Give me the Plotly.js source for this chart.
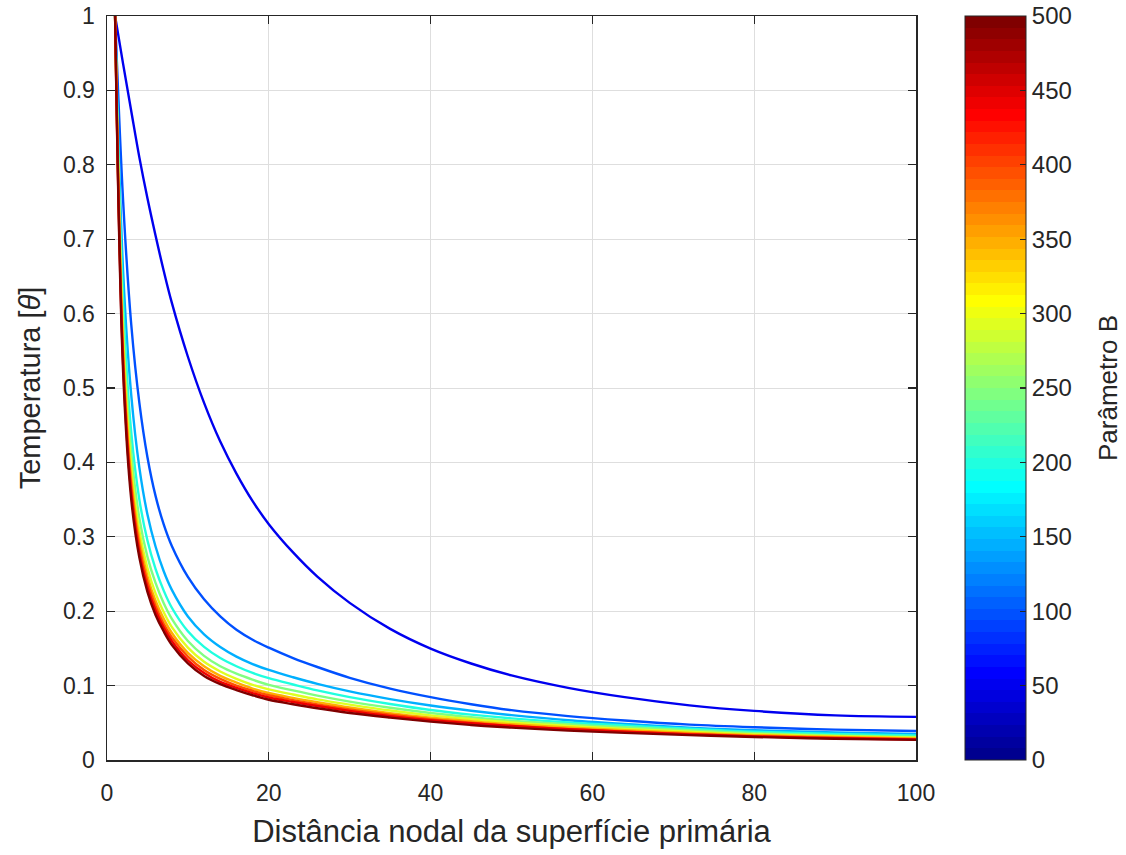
<!DOCTYPE html>
<html>
<head>
<meta charset="utf-8">
<script src="https://cdn.plot.ly/plotly-3.0.1.min.js"></script>
<style>html,body{margin:0;padding:0;background:#fff;}</style>
</head>
<body>
<div id="chart" style="width:1126px;height:855px;"></div>
<script>
// ---- data ----
const nodes = [1,2,3,4,5,6,7,8,10,12,14,16,18,20,23,26,30,35,40,45,50,57,64,72,80,90,100];
const paramB = [50,100,150,200,250,300,350,400,450,500];
const theta_B50  = [1.0,0.935,0.872,0.81,0.755,0.705,0.658,0.615,0.542,0.48,0.428,0.385,0.348,0.317,0.279,0.2465,0.2112,0.1762,0.1497,0.1297,0.1137,0.097,0.0845,0.0735,0.066,0.060,0.058];
const theta_B100 = [1.0,0.75,0.585,0.48,0.407,0.355,0.317,0.288,0.246,0.216,0.193,0.175,0.1616,0.151,0.137,0.125,0.1105,0.096,0.0845,0.075,0.067,0.059,0.053,0.0475,0.044,0.0408,0.039];
const theta_B150 = [1.0,0.655,0.49,0.393,0.33,0.287,0.254,0.229,0.193,0.169,0.152,0.139,0.129,0.121,0.1112,0.1023,0.0922,0.0818,0.0732,0.0662,0.0603,0.0535,0.0485,0.0435,0.040,0.037,0.035];
const theta_B200 = [1.0,0.615,0.44,0.35,0.295,0.257,0.228,0.205,0.173,0.152,0.137,0.126,0.117,0.110,0.1015,0.0935,0.0845,0.0752,0.0672,0.061,0.056,0.0505,0.0465,0.042,0.038,0.035,0.033];
const theta_B250 = [1.0,0.585,0.413,0.325,0.273,0.238,0.211,0.19,0.16,0.14,0.126,0.116,0.108,0.101,0.0935,0.0865,0.0785,0.0702,0.0632,0.0575,0.0528,0.048,0.044,0.040,0.036,0.033,0.031];
const theta_B300 = [1.0,0.565,0.393,0.308,0.258,0.224,0.199,0.179,0.151,0.132,0.119,0.109,0.101,0.095,0.088,0.0815,0.0745,0.0665,0.060,0.055,0.0505,0.0458,0.0418,0.038,0.0345,0.032,0.030];
const theta_B350 = [1.0,0.55,0.379,0.296,0.247,0.214,0.19,0.171,0.144,0.126,0.113,0.104,0.096,0.090,0.0835,0.0777,0.0705,0.063,0.057,0.052,0.048,0.0437,0.040,0.0365,0.0335,0.031,0.029];
const theta_B400 = [1.0,0.54,0.368,0.287,0.239,0.207,0.183,0.165,0.139,0.121,0.109,0.100,0.093,0.087,0.0805,0.0748,0.068,0.061,0.055,0.050,0.046,0.0418,0.0385,0.035,0.032,0.030,0.028];
const theta_B450 = [1.0,0.53,0.359,0.279,0.232,0.201,0.178,0.160,0.134,0.117,0.105,0.097,0.090,0.084,0.078,0.0725,0.066,0.059,0.0535,0.0493,0.0457,0.0415,0.038,0.0345,0.0318,0.0293,0.0275];
const theta_B500 = [1.0,0.52,0.35,0.272,0.226,0.195,0.173,0.155,0.130,0.113,0.102,0.094,0.087,0.081,0.075,0.0695,0.0632,0.057,0.0515,0.047,0.0435,0.0395,0.0365,0.0335,0.031,0.0285,0.027];
const thetaSeries = [theta_B50,theta_B100,theta_B150,theta_B200,theta_B250,theta_B300,theta_B350,theta_B400,theta_B450,theta_B500];
const cbTicks = [0,50,100,150,200,250,300,350,400,450,500];
const yTicks = [0,0.1,0.2,0.3,0.4,0.5,0.6,0.7,0.8,0.9,1];
const xTicks = [0,20,40,60,80,100];

// ---- MATLAB jet(64) colormap ----
function jetRow(i){ // i: 1..64
  const u = k => (k<1||k>47)?0:(k<=16? k/16 : (k<=31? 1 : (48-k)/16));
  const r = u(i-24), g = u(i-8), b = u(i+8);
  return 'rgb(' + Math.round(r*255) + ',' + Math.round(g*255) + ',' + Math.round(b*255) + ')';
}
const cmin = 0, cmax = 500;
const colorscale = [];
for (let i=0;i<64;i++){ const c = jetRow(i+1); colorscale.push([i/64, c]); colorscale.push([(i+1)/64, c]); }

const ink = '#262626';
const font = 'Liberation Sans, Arial, Helvetica, sans-serif';
const traces = thetaSeries.map((ys, k) => {
  const row = 1 + Math.floor((paramB[k]-cmin)/(cmax-cmin)*63);
  return {type:'scatter', mode:'lines', x:nodes, y:ys, line:{color:jetRow(row), width:2.4, shape:'spline', smoothing:1},
          showlegend:false, hoverinfo:'skip'};
});
traces.push({type:'scatter', mode:'markers', x:[-50], y:[-50], showlegend:false, hoverinfo:'skip',
  marker:{color:[0], cmin:cmin, cmax:cmax, colorscale:colorscale, showscale:true,
    colorbar:{x:1.0606, xanchor:'left', xref:'paper', y:0.5, yanchor:'middle', len:1, lenmode:'fraction',
      thickness:61, thicknessmode:'pixels', xpad:0, ypad:0, outlinewidth:1, outlinecolor:ink,
      ticks:'inside', ticklen:6, tickwidth:1.2, tickcolor:ink, tickvals:cbTicks,
      tickfont:{family:font, size:24, color:ink}, ticklabelstandoff:8,
      title:{text:''}}}});

const layout = {
  width:1126, height:855,
  margin:{l:107, r:210, t:16, b:95},
  paper_bgcolor:'#fff', plot_bgcolor:'#fff',
  font:{family:font, color:ink},
  xaxis:{range:[0,100], tickvals:xTicks, ticks:'inside', ticklen:8, tickwidth:1.2, tickcolor:ink,
    mirror:'allticks', showline:true, linecolor:ink, linewidth:1.5, showgrid:true, gridcolor:'#dedede', gridwidth:1,
    zeroline:false, tickfont:{family:font, size:23, color:ink}, ticklabelstandoff:12,
    title:{text:'Distância nodal da superfície primária', font:{family:font, size:31, color:ink}, standoff:15}},
  yaxis:{range:[0,1], tickvals:yTicks, ticks:'inside', ticklen:8, tickwidth:1.2, tickcolor:ink,
    mirror:'allticks', showline:true, linecolor:ink, linewidth:1.5, showgrid:true, gridcolor:'#dedede', gridwidth:1,
    zeroline:false, tickfont:{family:font, size:23, color:ink}, ticklabelstandoff:6,
    title:{text:'Temperatura [<i>θ</i>]', font:{family:font, size:29, color:ink}, standoff:14}},
  annotations:[{text:'Parâmetro B', xref:'paper', yref:'paper', x:1.2373, y:0.5, xanchor:'center', yanchor:'middle',
    textangle:-90, showarrow:false, font:{family:font, size:26, color:ink}}]
};
Plotly.newPlot('chart', traces, layout, {displayModeBar:false, staticPlot:true});
</script>
</body>
</html>
